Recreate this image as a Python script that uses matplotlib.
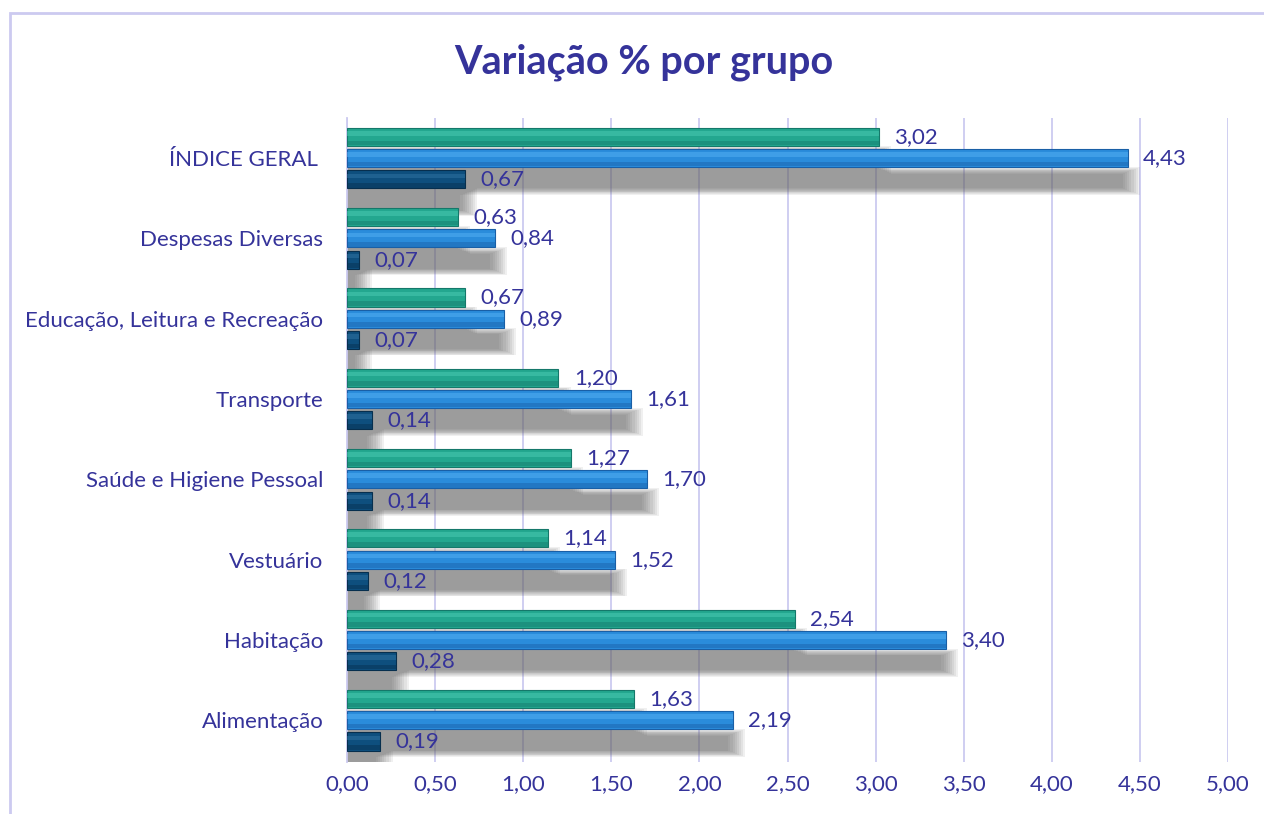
import matplotlib.pyplot as plt
from matplotlib.patches import Rectangle

grupos = ['Alimentação', 'Habitação', 'Vestuário', 'Saúde e Higiene Pessoal',
          'Transporte', 'Educação, Leitura e Recreação', 'Despesas Diversas', 'ÍNDICE GERAL ']
serie1 = [1.63, 2.54, 1.14, 1.27, 1.20, 0.67, 0.63, 3.02]
serie2 = [2.19, 3.40, 1.52, 1.70, 1.61, 0.89, 0.84, 4.43]
serie3 = [0.19, 0.28, 0.12, 0.14, 0.14, 0.07, 0.07, 0.67]
xticks = [0, 0.5, 1, 1.5, 2, 2.5, 3, 3.5, 4, 4.5, 5]

txt = '#35339A'
grid = '#CCCAF0'
plt.rcParams['font.family'] = ['Lato', 'DejaVu Sans']

fig = plt.figure(figsize=(12.64, 8.14), dpi=100)
fig.patches.append(Rectangle((10 / 1264, -0.1), 1.2, 1 - 13 / 814 + 0.1,
                             transform=fig.transFigure, fill=False,
                             edgecolor=grid, lw=2))
ax = fig.add_axes([347 / 1264, 52 / 814, 881 / 1264, 644 / 814])

y = list(range(len(grupos)))
h = 0.225
off = 0.265
series = [
    (serie1, off, '#23A78F', '#48C8B0', '#15786A'),
    (serie2, 0.0, '#2A8CDB', '#52AEF2', '#195FA6'),
    (serie3, -off, '#0E4F7E', '#2E719F', '#072F4E'),
]

# sombras (desfocadas)
for vals, dy, *_ in series:
    ys = [v + dy - off - 0.02 for v in y]
    for k in range(9):
        ax.barh(ys, [v + 0.07 - k * 0.012 for v in vals], height=h + 0.12 - k * 0.02,
                color='#5A5A5A', alpha=0.09, lw=0, zorder=1)

# barras
for vals, dy, c, light, dark in series:
    ys = [v + dy for v in y]
    ax.barh(ys, vals, height=h, color=c, edgecolor=dark, lw=0.8, zorder=3)
    ax.barh([v + h * 0.2 for v in ys], vals, height=h * 0.25, color=light, lw=0,
            zorder=4, alpha=0.55)
    ax.barh([v - h * 0.33 for v in ys], vals, height=h * 0.25, color=dark, lw=0,
            zorder=4, alpha=0.45)
    for yy, v in zip(ys, vals):
        ax.annotate(f'{v:.2f}'.replace('.', ','), (v, yy), xytext=(11, 0),
                    textcoords='offset points', va='center', ha='left',
                    fontsize=16, color=txt, zorder=5)

ax.set_xlim(0, 5)
ax.set_ylim(-0.52, 7.5)
ax.set_xticks(xticks)
ax.set_xticklabels([f'{t:.2f}'.replace('.', ',') for t in xticks])
ax.set_yticks(y)
ax.set_yticklabels(grupos)
ax.tick_params(length=0, labelsize=16, colors=txt, pad=9)
ax.tick_params(axis='y', pad=17)
ax.grid(axis='x', color=grid, lw=1.3, zorder=0)
ax.set_axisbelow(True)
for s in ['top', 'right', 'bottom']:
    ax.spines[s].set_visible(False)
ax.spines['left'].set_color(grid)
ax.spines['left'].set_linewidth(1.3)

fig.text(644 / 1264, 1 - 62 / 814, 'Variação % por grupo', ha='center', va='center',
         fontsize=28.5, fontweight='bold', color=txt)

fig.savefig('out.png', dpi=100)
